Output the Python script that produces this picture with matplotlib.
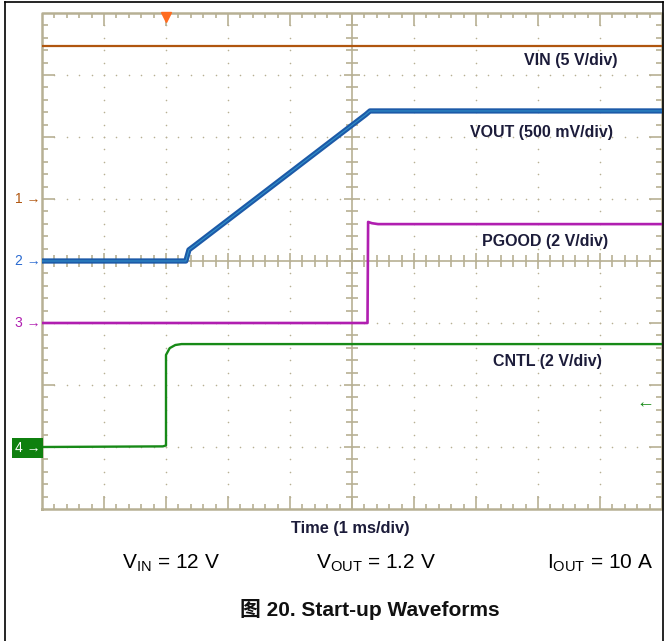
import matplotlib
matplotlib.use('Agg')
import matplotlib.pyplot as plt
import numpy as np
from matplotlib.collections import LineCollection
from matplotlib.lines import Line2D

plt.rcParams.update({
    'font.family': ['Liberation Sans', 'Noto Sans CJK SC', 'DejaVu Sans'],
    'mathtext.default': 'regular',
})

# ---- data (time in ms from left edge, 1 ms/div) ----
vin_t = [0.0, 10.0]
vin_v = [12.3, 12.3]                      # 5 V/div, ch1 ground at +1 div

vout_t = [0.0, 2.32, 2.37, 2.45, 5.22, 5.29, 10.0]
vout_v = [0.0, 0.0, 0.09, 0.12, 1.18, 1.21, 1.21]   # 0.5 V/div, ch2 ground at 0 div

pgood_t = [0.0, 5.25, 5.26, 5.32, 5.42, 10.0]
pgood_v = [0.0, 0.0, 3.26, 3.22, 3.19, 3.19]        # 2 V/div, ch3 ground at -1 div

cntl_t = [0.0, 1.95, 2.0, 2.0, 2.06, 2.15, 2.25, 10.0]
cntl_v = [0.0, 0.02, 0.05, 2.97, 3.19, 3.29, 3.32, 3.32]  # 2 V/div, ch4 ground at -3 div

ch_scale = [5.0, 0.5, 2.0, 2.0]
ch_offset = [1.0, 0.0, -1.0, -3.0]
ch_names = ['VIN (5 V/div)', 'VOUT (500 mV/div)', 'PGOOD (2 V/div)', 'CNTL (2 V/div)']

C_VIN = '#b0560f'
C_VOUT = '#1c5aa8'
C_VOUT2 = '#3aa6d6'
C_PG = '#b01eb0'
C_CN = '#178a17'
C_GRID = '#b7b094'
C_TXT = '#1c1c3a'

W, H = 664, 641
fig = plt.figure(figsize=(W / 100, H / 100), dpi=100)

def fx(x): return x / W
def fy(y): return 1 - y / H

ax = fig.add_axes([fx(42), fy(509), 620 / W, 496 / H])
ax.set_xlim(0, 10)
ax.set_ylim(-4, 4)
ax.axis('off')

# ---- scope graticule ----
segs = []
xs = np.round(np.arange(0, 10.001, 0.2), 3)
ys = np.round(np.arange(-4, 4.001, 0.2), 3)
for x in xs[1:-1]:
    major = abs(x - round(x)) < 1e-6
    L = 0.21 if major else 0.08
    segs.append([(x, 4), (x, 4 - L)])
    segs.append([(x, -4), (x, -4 + L)])
    Lc = 0.13 if major else 0.09
    segs.append([(x, -Lc), (x, Lc)])
for y in ys[1:-1]:
    major = abs(y - round(y)) < 1e-6
    L = 0.21 if major else 0.1
    segs.append([(0, y), (L, y)])
    segs.append([(10, y), (10 - L, y)])
    Lc = 0.13 if major else 0.09
    segs.append([(5 - Lc, y), (5 + Lc, y)])
segs.append([(5, -4), (5, 4)])
segs.append([(0, 0), (10, 0)])
ax.add_collection(LineCollection(segs, colors=C_GRID, linewidths=1.2, zorder=1))
ax.plot([0, 10, 10, 0, 0], [-4, -4, 4, 4, -4], color=C_GRID, lw=1.8, zorder=1,
        clip_on=False)

dx, dy = [], []
for x in range(1, 10):
    if x == 5:
        continue
    for y in ys[1:-1]:
        dx.append(x); dy.append(y)
for y in range(-3, 4):
    if y == 0:
        continue
    for x in xs[1:-1]:
        dx.append(x); dy.append(y)
ax.scatter(dx, dy, s=1.3, color=C_GRID, linewidths=0, zorder=1)

# trigger marker
ax.plot([2.0], [3.93], marker='v', color='#ff6b1f', markersize=7, clip_on=False, zorder=6)

# ---- traces ----
def to_div(v, ch):
    return np.array(v) / ch_scale[ch] + ch_offset[ch]

ax.plot(cntl_t, to_div(cntl_v, 3), color=C_CN, lw=1.7, zorder=3)
ax.plot(pgood_t, to_div(pgood_v, 2), color=C_PG, lw=1.9, zorder=3)
ax.plot(vout_t, to_div(vout_v, 1), color=C_VOUT, lw=3.8, zorder=4, solid_joinstyle='round')
ax.plot(vout_t, to_div(vout_v, 1), color=C_VOUT2, lw=0.8, alpha=0.7, zorder=4)
ax.plot(vin_t, to_div(vin_v, 0), color=C_VIN, lw=1.6, zorder=5)

# ---- channel labels ----
lab_pos = [(8.53, 3.24), (8.05, 2.07), (8.12, 0.31), (8.16, -1.62)]
for name, (x, y) in zip(ch_names, lab_pos):
    ax.text(x, y, name, ha='center', va='center', fontsize=11.5, fontweight='bold',
            color=C_TXT, zorder=7)

# ---- ground markers on the left ----
mk_cols = [C_VIN, '#2a6ad0', C_PG]
for i in range(3):
    ax.text(-0.02, ch_offset[i], f'{i + 1} →', ha='right', va='center', fontsize=10,
            color=mk_cols[i], clip_on=False)
ax.text(-0.03, ch_offset[3] - 0.02, '4 →', ha='right', va='center', fontsize=10,
        color='white', clip_on=False,
        bbox=dict(boxstyle='square,pad=0.2', fc='#0f800f', ec='none'))
ax.text(9.73, -2.29, '←', ha='center', va='center', fontsize=13, color=C_CN,
        fontweight='bold', clip_on=False)

# ---- texts below ----
fig.text(fx(350), fy(529), 'Time (1 ms/div)', ha='center', va='center', fontsize=11.8,
         fontweight='bold', color=C_TXT)
fig.text(fx(171), fy(563), r'V$_{IN}$ = 12 V', ha='center', va='center', fontsize=15)
fig.text(fx(376), fy(563), r'V$_{OUT}$ = 1.2 V', ha='center', va='center', fontsize=15)
fig.text(fx(600), fy(563), r'I$_{OUT}$ = 10 A', ha='center', va='center', fontsize=15)
fig.text(fx(370), fy(609), '图 20. Start-up Waveforms', ha='center', va='center',
         fontsize=15, fontweight='bold', color='#111111')

# ---- outer frame (open at bottom) ----
fig.add_artist(Line2D([fx(5), fx(5)], [0, fy(2)], color='black', lw=1.2))
fig.add_artist(Line2D([fx(5), fx(663)], [fy(2), fy(2)], color='black', lw=1.2))
fig.add_artist(Line2D([fx(663), fx(663)], [0, fy(2)], color='black', lw=1.2))

fig.savefig('out.png', dpi=100)
